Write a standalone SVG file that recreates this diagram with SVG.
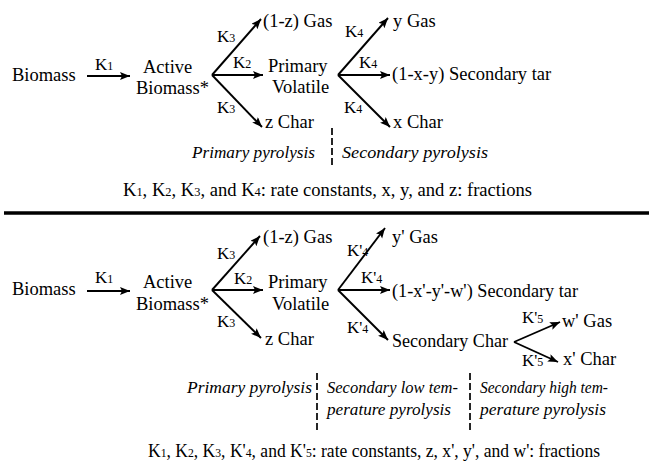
<svg xmlns="http://www.w3.org/2000/svg" width="649" height="463" viewBox="0 0 649 463">
<style>
text{font-family:'Liberation Serif','Times New Roman',serif;fill:#000}
.n{font-size:18.5px}
.k{font-size:17px}
.s{font-size:12px}
.i{font-size:17px;font-style:italic}
.c{font-size:18px}
.ln{stroke:#000;stroke-width:1.9;fill:none}
.dv{stroke:#000;stroke-width:1.7;stroke-dasharray:7,3;fill:none}
</style>
<defs>
<marker id="ah" markerUnits="userSpaceOnUse" markerWidth="12" markerHeight="10" refX="10" refY="4" orient="auto">
<path d="M0,0 L10,4 L0,8 L2,4 z" fill="#000"/>
</marker>
</defs>
<rect width="649" height="463" fill="#fff"/>

<g id="connectors-top">
<line class="ln" x1="87" y1="76" x2="130" y2="76" marker-end="url(#ah)"/>
<line class="ln" x1="212" y1="75" x2="261" y2="19" marker-end="url(#ah)"/>
<line class="ln" x1="212" y1="75" x2="263" y2="75" marker-end="url(#ah)"/>
<line class="ln" x1="212" y1="75" x2="262" y2="127" marker-end="url(#ah)"/>
<line class="ln" x1="338" y1="75" x2="388" y2="18" marker-end="url(#ah)"/>
<line class="ln" x1="338" y1="75" x2="390" y2="75" marker-end="url(#ah)"/>
<line class="ln" x1="338" y1="75" x2="390" y2="127" marker-end="url(#ah)"/>
<line class="dv" x1="332" y1="128" x2="332" y2="168"/>
</g>
<g id="rate-labels-top">
<text class="k" x="95" y="70">K<tspan class="s">1</tspan></text>
<text class="k" x="217" y="42">K<tspan class="s">3</tspan></text>
<text class="k" x="233" y="68">K<tspan class="s">2</tspan></text>
<text class="k" x="217" y="113">K<tspan class="s">3</tspan></text>
<text class="k" x="345" y="37">K<tspan class="s">4</tspan></text>
<text class="k" x="359" y="68">K<tspan class="s">4</tspan></text>
<text class="k" x="344" y="113">K<tspan class="s">4</tspan></text>
</g>
<g id="t-biomass"><text class="n" x="12" y="81">Biomass</text></g>
<g id="t-active"><text class="n" x="143" y="73">Active</text><text class="n" x="136" y="94">Biomass*</text></g>
<g id="t-gas1"><text class="n" x="263" y="27">(1-z) Gas</text></g>
<g id="t-primvol"><text class="n" x="268" y="72">Primary</text><text class="n" x="272" y="93">Volatile</text></g>
<g id="t-zchar"><text class="n" x="265" y="128">z Char</text></g>
<g id="t-ygas"><text class="n" x="393" y="27">y Gas</text></g>
<g id="t-tar"><text class="n" x="392" y="80">(1-x-y) Secondary tar</text></g>
<g id="t-xchar"><text class="n" x="393" y="128">x Char</text></g>
<g id="t-stages">
<text class="i" x="192" y="158" textLength="123" lengthAdjust="spacingAndGlyphs">Primary pyrolysis</text>
<text class="i" x="342" y="158" textLength="146" lengthAdjust="spacingAndGlyphs">Secondary pyrolysis</text>
</g>
<g id="t-caption"><text class="c" x="123" y="196" textLength="409" lengthAdjust="spacingAndGlyphs">K<tspan class="s">1</tspan>, K<tspan class="s">2</tspan>, K<tspan class="s">3</tspan>, and K<tspan class="s">4</tspan>: rate constants, x, y, and z: fractions</text></g>

<line x1="4" y1="213" x2="649" y2="213" stroke="#000" stroke-width="3.5"/>

<g id="connectors-bottom">
<line class="ln" x1="87" y1="291" x2="130" y2="291" marker-end="url(#ah)"/>
<line class="ln" x1="212" y1="290" x2="260" y2="236" marker-end="url(#ah)"/>
<line class="ln" x1="212" y1="290" x2="263" y2="290" marker-end="url(#ah)"/>
<line class="ln" x1="212" y1="290" x2="261" y2="338" marker-end="url(#ah)"/>
<line class="ln" x1="338" y1="290" x2="385" y2="228" marker-end="url(#ah)"/>
<line class="ln" x1="338" y1="290" x2="390" y2="290" marker-end="url(#ah)"/>
<line class="ln" x1="338" y1="290" x2="388" y2="340" marker-end="url(#ah)"/>
<line class="ln" x1="514" y1="342" x2="560" y2="322" marker-end="url(#ah)"/>
<line class="ln" x1="514" y1="342" x2="558" y2="362" marker-end="url(#ah)"/>
<line class="dv" x1="317" y1="373" x2="317" y2="433"/>
<line class="dv" x1="470" y1="373" x2="470" y2="433"/>
</g>
<g id="rate-labels-bottom">
<text class="k" x="95" y="283">K<tspan class="s">1</tspan></text>
<text class="k" x="217" y="259">K<tspan class="s">3</tspan></text>
<text class="k" x="234" y="284">K<tspan class="s">2</tspan></text>
<text class="k" x="217" y="327">K<tspan class="s">3</tspan></text>
<text class="k" x="347" y="256">K'<tspan class="s">4</tspan></text>
<text class="k" x="361" y="283">K'<tspan class="s">4</tspan></text>
<text class="k" x="347" y="333">K'<tspan class="s">4</tspan></text>
<text class="k" x="522" y="323">K'<tspan class="s">5</tspan></text>
<text class="k" x="522" y="366">K'<tspan class="s">5</tspan></text>
</g>
<g id="b-biomass"><text class="n" x="12" y="295">Biomass</text></g>
<g id="b-active"><text class="n" x="143" y="288">Active</text><text class="n" x="136" y="310">Biomass*</text></g>
<g id="b-gas1"><text class="n" x="263" y="243">(1-z) Gas</text></g>
<g id="b-primvol"><text class="n" x="268" y="288">Primary</text><text class="n" x="272" y="310">Volatile</text></g>
<g id="b-zchar"><text class="n" x="265" y="345">z Char</text></g>
<g id="b-ygas"><text class="n" x="392" y="243">y' Gas</text></g>
<g id="b-tar"><text class="n" x="392" y="297" textLength="186" lengthAdjust="spacingAndGlyphs">(1-x'-y'-w') Secondary tar</text></g>
<g id="b-secchar"><text class="n" x="392" y="347" textLength="116" lengthAdjust="spacingAndGlyphs">Secondary Char</text></g>
<g id="b-wgas"><text class="n" x="562" y="327">w' Gas</text></g>
<g id="b-xchar"><text class="n" x="563" y="365">x' Char</text></g>
<g id="b-stages">
<text class="i" x="187" y="393" textLength="125" lengthAdjust="spacingAndGlyphs">Primary pyrolysis</text>
<text class="i" x="327" y="393" textLength="131" lengthAdjust="spacingAndGlyphs">Secondary low tem-</text>
<text class="i" x="327" y="415" textLength="124" lengthAdjust="spacingAndGlyphs">perature pyrolysis</text>
<text class="i" x="480" y="393" textLength="128" lengthAdjust="spacingAndGlyphs">Secondary high tem-</text>
<text class="i" x="480" y="415" textLength="126" lengthAdjust="spacingAndGlyphs">perature pyrolysis</text>
</g>
<g id="b-caption"><text class="c" x="148" y="457" textLength="452" lengthAdjust="spacingAndGlyphs">K<tspan class="s">1</tspan>, K<tspan class="s">2</tspan>, K<tspan class="s">3</tspan>, K'<tspan class="s">4</tspan>, and K'<tspan class="s">5</tspan>: rate constants, z, x', y', and w': fractions</text></g>
</svg>
